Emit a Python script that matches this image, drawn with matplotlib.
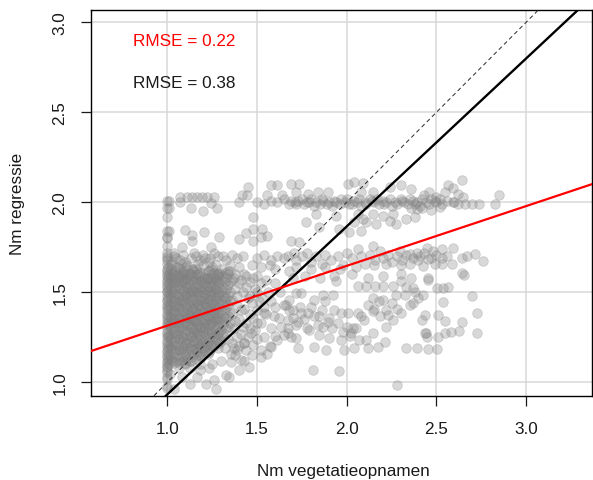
import matplotlib
matplotlib.use('Agg')
import matplotlib.pyplot as plt

plt.rcParams['font.family'] = ['Liberation Sans', 'DejaVu Sans']

# dense block near x = 1.0 .. 1.35 (column x -> y values)
block_cols = {
    1.0: [0.97, 0.98, 1.02, 1.03, 1.06, 1.07, 1.09, 1.11, 1.12, 1.14, 1.15, 1.17, 1.18, 1.2, 1.22,
          1.23, 1.25, 1.27, 1.28, 1.3, 1.32, 1.33, 1.35, 1.37, 1.38, 1.4, 1.42, 1.43, 1.45, 1.46,
          1.48, 1.5, 1.51, 1.53, 1.54, 1.56, 1.57, 1.59, 1.6, 1.62, 1.63, 1.66, 1.68, 1.69, 1.7,
          1.72, 1.76, 1.8, 1.84, 1.92, 1.97, 2.01],
    1.005: [1.13, 1.19, 1.26, 1.34, 1.41, 1.47, 1.52, 1.58, 1.64],
    1.01: [1.1, 1.15, 1.21, 1.26, 1.32, 1.37, 1.43, 1.49, 1.55, 1.6],
    1.02: [1.13, 1.19, 1.24, 1.31, 1.36, 1.41, 1.47, 1.52, 1.58, 1.63],
    1.025: [1.12, 1.2, 1.27, 1.33, 1.38, 1.44, 1.5, 1.56, 1.61, 1.67],
    1.03: [1.16, 1.22, 1.28, 1.34, 1.39, 1.45, 1.5, 1.55, 1.61],
    1.04: [1.11, 1.17, 1.23, 1.3, 1.36, 1.4, 1.47, 1.52, 1.59],
    1.045: [1.14, 1.21, 1.27, 1.33, 1.39, 1.43, 1.49, 1.55, 1.62],
    1.05: [1.12, 1.18, 1.25, 1.29, 1.35, 1.42, 1.46, 1.53, 1.57, 1.64],
    1.06: [1.15, 1.21, 1.27, 1.33, 1.38, 1.44, 1.49, 1.56, 1.6],
    1.065: [1.11, 1.18, 1.24, 1.3, 1.36, 1.42, 1.48, 1.54, 1.59],
    1.07: [1.12, 1.18, 1.24, 1.31, 1.35, 1.41, 1.46, 1.52, 1.58, 1.63],
    1.08: [1.14, 1.2, 1.26, 1.3, 1.37, 1.43, 1.48, 1.54, 1.59, 1.66],
    1.085: [1.12, 1.19, 1.25, 1.32, 1.39, 1.45, 1.51, 1.56, 1.61],
    1.09: [1.17, 1.23, 1.29, 1.35, 1.4, 1.46, 1.51, 1.57, 1.62],
    1.1: [1.11, 1.16, 1.21, 1.27, 1.33, 1.38, 1.44, 1.49, 1.55, 1.6],
    1.105: [1.14, 1.22, 1.29, 1.36, 1.42, 1.48, 1.53, 1.58, 1.64],
    1.11: [1.13, 1.19, 1.24, 1.32, 1.36, 1.41, 1.47, 1.53, 1.58],
    1.12: [1.16, 1.22, 1.28, 1.34, 1.39, 1.45, 1.5, 1.55, 1.61],
    1.125: [1.12, 1.19, 1.26, 1.32, 1.37, 1.43, 1.49, 1.54, 1.6],
    1.13: [1.12, 1.18, 1.26, 1.3, 1.35, 1.4, 1.46, 1.51, 1.57],
    1.14: [1.14, 1.2, 1.25, 1.31, 1.37, 1.42, 1.48, 1.52, 1.59],
    1.145: [1.16, 1.23, 1.28, 1.34, 1.41, 1.46, 1.51, 1.57, 1.63],
    1.15: [1.18, 1.23, 1.29, 1.35, 1.4, 1.44, 1.5, 1.56, 1.62],
    1.16: [1.13, 1.19, 1.25, 1.3, 1.34, 1.39, 1.45, 1.51, 1.57, 1.63],
    1.165: [1.17, 1.22, 1.28, 1.33, 1.38, 1.44, 1.5, 1.55, 1.6],
    1.17: [1.15, 1.21, 1.27, 1.32, 1.38, 1.43, 1.49, 1.54, 1.6],
    1.18: [1.19, 1.24, 1.3, 1.36, 1.41, 1.46, 1.52, 1.57],
    1.185: [1.15, 1.21, 1.27, 1.34, 1.39, 1.45, 1.5, 1.56, 1.61],
    1.19: [1.14, 1.2, 1.26, 1.31, 1.37, 1.43, 1.48, 1.53, 1.59],
    1.2: [1.16, 1.22, 1.28, 1.33, 1.39, 1.45, 1.5, 1.55, 1.61],
    1.205: [1.19, 1.25, 1.31, 1.36, 1.42, 1.47, 1.52, 1.58],
    1.21: [1.17, 1.23, 1.3, 1.34, 1.4, 1.44, 1.49, 1.55],
    1.22: [1.2, 1.25, 1.31, 1.37, 1.42, 1.47, 1.53, 1.58],
    1.225: [1.16, 1.22, 1.28, 1.33, 1.39, 1.45, 1.51, 1.57, 1.62],
    1.23: [1.17, 1.23, 1.29, 1.35, 1.4, 1.46, 1.51, 1.56, 1.62],
    1.24: [1.18, 1.25, 1.32, 1.36, 1.42, 1.48, 1.53, 1.58],
    1.245: [1.21, 1.28, 1.34, 1.4, 1.46, 1.51, 1.57, 1.63],
    1.25: [1.21, 1.27, 1.33, 1.38, 1.44, 1.49, 1.54, 1.6],
    1.26: [1.2, 1.26, 1.34, 1.39, 1.43, 1.5, 1.55, 1.61],
    1.265: [1.23, 1.29, 1.35, 1.41, 1.46, 1.52, 1.58],
    1.27: [1.24, 1.3, 1.36, 1.41, 1.47, 1.52, 1.57],
    1.28: [1.19, 1.27, 1.32, 1.38, 1.44, 1.49, 1.55, 1.59],
    1.285: [1.25, 1.31, 1.36, 1.42, 1.48, 1.54, 1.6],
    1.29: [1.22, 1.28, 1.34, 1.39, 1.45, 1.5, 1.56, 1.61],
    1.3: [1.23, 1.29, 1.35, 1.4, 1.46, 1.51, 1.57],
    1.31: [1.26, 1.32, 1.37, 1.43, 1.48, 1.53, 1.59],
    1.32: [1.27, 1.34, 1.4, 1.45, 1.5, 1.56, 1.61],
    1.33: [1.3, 1.36, 1.42, 1.47, 1.52, 1.58],
    1.34: [1.31, 1.37, 1.43, 1.48, 1.54, 1.6],
    1.35: [1.33, 1.39, 1.45, 1.5, 1.56, 1.62],
}

# scattered points below and right of the block
low_pts = [(1.0, 1.086), (1.017, 1.049), (1.063, 1.077), (1.082, 1.03), (1.129, 1.077), (1.166, 1.03),
           (1.185, 1.067), (1.231, 1.077), (1.259, 1.011), (1.269, 0.965), (1.353, 1.114), (1.399, 1.067),
           (1.343, 1.03), (1.455, 1.086), (1.129, 0.993), (1.213, 0.993), (1.035, 0.965), (1.409, 1.123),
           (1.325, 1.039), (1.521, 1.142), (1.558, 1.16), (1.577, 1.198), (1.614, 1.235), (1.651, 1.263),
           (1.539, 1.385), (1.595, 1.366), (1.633, 1.31), (1.502, 1.328), (1.465, 1.273), (1.427, 1.217),
           (1.39, 1.179), (1.353, 1.16), (1.25, 1.1), (1.3, 1.12), (1.18, 1.1), (1.1, 1.1)]

mid_left_pts = [(1.37, 1.58), (1.4, 1.55), (1.43, 1.6), (1.46, 1.56), (1.38, 1.52), (1.42, 1.5), (1.45, 1.47),
                (1.49, 1.52), (1.52, 1.55), (1.36, 1.46), (1.39, 1.43), (1.43, 1.41), (1.47, 1.44), (1.5, 1.4),
                (1.53, 1.47), (1.56, 1.5), (1.36, 1.38), (1.4, 1.35), (1.44, 1.33), (1.48, 1.36), (1.52, 1.33),
                (1.55, 1.38), (1.37, 1.3), (1.41, 1.27), (1.45, 1.25), (1.49, 1.29), (1.54, 1.25), (1.58, 1.3),
                (1.36, 1.22), (1.4, 1.2), (1.44, 1.18), (1.48, 1.21), (1.52, 1.18), (1.38, 1.15), (1.43, 1.12),
                (1.47, 1.15), (1.6, 1.42), (1.62, 1.36), (1.58, 1.45), (1.6, 1.55), (1.63, 1.5), (1.65, 1.43),
                (1.57, 1.2), (1.6, 1.26),
                (1.38, 1.6), (1.41, 1.57), (1.44, 1.53), (1.39, 1.48), (1.41, 1.4), (1.46, 1.38), (1.38, 1.34),
                (1.42, 1.31), (1.46, 1.3), (1.39, 1.25), (1.43, 1.22), (1.5, 1.24), (1.37, 1.19), (1.46, 1.48),
                (1.51, 1.45), (1.54, 1.42), (1.5, 1.5), (1.48, 1.58), (1.55, 1.57), (1.34, 1.24), (1.32, 1.19)]

mid_right_pts = [(1.717, 1.497), (1.745, 1.497), (1.819, 1.459), (1.866, 1.487), (1.922, 1.487), (1.941, 1.562),
                 (2.062, 1.534), (2.109, 1.534), (2.155, 1.534), (2.202, 1.534), (2.258, 1.534), (2.305, 1.562),
                 (2.37, 1.525), (2.277, 1.487), (2.323, 1.487), (2.146, 1.469), (2.202, 1.459), (2.37, 1.441),
                 (1.679, 1.459), (1.698, 1.403), (1.745, 1.385), (1.782, 1.385), (1.67, 1.347), (1.726, 1.338),
                 (1.847, 1.366), (1.894, 1.338), (1.931, 1.403), (1.969, 1.385), (2.006, 1.385), (2.062, 1.385),
                 (2.099, 1.347), (2.146, 1.394), (2.183, 1.366), (2.23, 1.375), (2.258, 1.347), (2.305, 1.385),
                 (2.221, 1.31), (1.866, 1.31), (1.791, 1.291), (1.67, 1.273), (1.717, 1.245), (1.847, 1.263),
                 (1.903, 1.245), (1.969, 1.235), (2.025, 1.273), (2.034, 1.301), (2.071, 1.235), (2.146, 1.273),
                 (2.109, 1.235), (1.987, 1.179), (2.043, 1.189), (2.118, 1.189), (2.174, 1.198), (1.726, 1.189),
                 (1.819, 1.198), (1.885, 1.179), (2.211, 1.226), (2.333, 1.189), (2.389, 1.189), (1.81, 1.071),
                 (1.956, 1.063), (2.282, 0.983), (2.435, 1.273),
                 (1.66, 1.43), (1.68, 1.4), (1.7, 1.36), (1.67, 1.3), (1.69, 1.25), (1.72, 1.32), (1.74, 1.42),
                 (1.76, 1.35), (1.78, 1.3), (1.8, 1.42), (1.82, 1.37), (1.84, 1.32), (1.86, 1.4), (1.88, 1.45),
                 (1.9, 1.36), (1.92, 1.3), (1.95, 1.33), (1.98, 1.28), (2.0, 1.31), (2.02, 1.26), (2.05, 1.3),
                 (2.08, 1.37), (2.12, 1.43), (2.15, 1.41), (2.18, 1.45), (2.22, 1.4), (2.25, 1.44), (2.28, 1.41),
                 (2.35, 1.43), (2.4, 1.47), (2.33, 1.53), (2.38, 1.5),
                 (2.501, 1.525), (2.538, 1.525), (2.566, 1.531), (2.454, 1.571), (2.426, 1.487), (2.697, 1.482),
                 (2.538, 1.444), (2.439, 1.375), (2.506, 1.375), (2.547, 1.343), (2.64, 1.338), (2.725, 1.385),
                 (2.443, 1.273), (2.45, 1.254), (2.511, 1.254), (2.547, 1.273), (2.581, 1.278), (2.625, 1.286),
                 (2.725, 1.273), (2.454, 1.185), (2.501, 1.185), (2.422, 1.347)]

# band around y = 1.7
band17_pts = [(1.035, 1.70), (1.07, 1.68), (1.09, 1.71), (1.13, 1.69), (1.15, 1.72), (1.185, 1.68), (1.2, 1.71),
              (1.24, 1.69), (1.28, 1.7), (1.33, 1.68), (1.36, 1.71), (1.39, 1.69), (1.42, 1.7), (1.5, 1.69),
              (1.54, 1.71), (1.58, 1.68), (1.61, 1.7), (1.65, 1.69), (1.02, 1.66), (1.06, 1.64), (1.11, 1.65),
              (1.14, 1.63), (1.2, 1.65), (1.25, 1.64), (1.3, 1.63), (1.35, 1.65), (1.4, 1.64), (1.47, 1.65),
              (1.52, 1.64), (1.57, 1.65), (1.6, 1.63), (1.03, 1.58), (1.08, 1.6), (1.13, 1.6), (1.22, 1.58),
              (1.28, 1.6), (1.36, 1.57), (1.44, 1.59), (1.5, 1.59),
              (1.05, 1.69), (1.1, 1.67), (1.17, 1.66), (1.23, 1.67), (1.27, 1.65), (1.31, 1.7), (1.34, 1.62),
              (1.16, 1.7), (1.21, 1.69), (1.04, 1.72), (1.26, 1.72),
              (1.082, 1.752), (1.245, 1.752), (1.138, 1.786), (1.287, 1.808), (1.207, 1.833), (1.138, 1.818),
              (1.097, 1.846), (1.399, 1.796), (1.437, 1.829), (1.478, 1.852), (1.53, 1.852), (1.558, 1.814),
              (1.48, 1.786), (1.52, 1.805),
              (1.69, 1.786), (1.735, 1.777), (1.707, 1.721), (1.67, 1.7), (1.72, 1.68), (1.75, 1.7), (1.78, 1.72),
              (1.8, 1.67), (1.83, 1.7), (1.86, 1.66), (1.88, 1.71), (1.91, 1.68), (1.95, 1.7), (1.98, 1.65),
              (2.0, 1.72), (2.03, 1.69), (2.062, 1.739), (2.08, 1.7), (2.1, 1.66), (2.146, 1.755), (2.13, 1.71),
              (2.16, 1.68), (2.183, 1.73), (2.2, 1.69), (2.23, 1.71), (2.25, 1.67), (2.28, 1.7), (2.295, 1.73),
              (2.31, 1.68), (2.33, 1.71), (2.351, 1.711), (2.37, 1.69), (2.39, 1.72), (2.41, 1.7), (2.445, 1.749),
              (2.482, 1.73), (2.529, 1.739), (2.594, 1.749), (2.64, 1.693), (2.668, 1.702), (2.715, 1.711),
              (2.762, 1.674), (2.585, 1.655), (2.53, 1.66), (2.49, 1.655), (2.454, 1.683), (2.426, 1.646),
              (2.529, 1.693), (2.56, 1.7), (2.5, 1.71), (2.47, 1.69), (2.43, 1.72), (2.4, 1.68), (2.35, 1.66),
              (2.3, 1.65), (2.22, 1.66), (2.15, 1.65), (2.05, 1.64), (1.96, 1.63), (1.88, 1.64), (1.8, 1.63),
              (1.72, 1.64), (1.68, 1.62), (1.7, 1.58), (1.77, 1.59), (1.85, 1.58), (1.93, 1.59), (2.03, 1.6),
              (2.12, 1.58), (2.2, 1.59), (2.3, 1.6), (2.36, 1.58), (2.454, 1.581), (2.64, 1.609), (2.655, 1.594)]

# band around y = 2.0
band20_pts = [(1.007, 2.01), (1.007, 1.967), (1.073, 2.03), (1.11, 2.03), (1.138, 2.03), (1.166, 2.03),
              (1.194, 2.03), (1.222, 2.03), (1.259, 2.03), (1.069, 2.0), (1.133, 1.967), (1.198, 1.954),
              (1.241, 1.997), (1.278, 1.967), (1.399, 2.0), (1.418, 2.038), (1.446, 2.038), (1.452, 2.085),
              (1.48, 1.917), (1.58, 2.098), (1.614, 2.098), (1.558, 2.038), (1.642, 2.042),
              (1.007, 1.842), (0.998, 1.805),
              (1.5, 2.0), (1.54, 1.99), (1.577, 2.01), (1.614, 2.0), (1.651, 2.02), (1.68, 1.99), (1.71, 2.0),
              (1.73, 2.01), (1.76, 1.99), (1.78, 2.0), (1.8, 2.02), (1.83, 2.0), (1.85, 1.99), (1.87, 2.01),
              (1.9, 2.0), (1.92, 1.98), (1.94, 2.0), (1.97, 2.02), (1.99, 2.0), (2.01, 1.99), (2.04, 2.01),
              (2.06, 2.0), (2.08, 1.98), (2.1, 2.0), (2.13, 2.02), (2.15, 2.0), (2.18, 1.99), (2.2, 2.01),
              (2.22, 2.0), (2.25, 1.98), (2.27, 2.0), (2.3, 2.02), (2.32, 2.0), (2.34, 1.99), (2.37, 2.01),
              (2.39, 2.0), (2.41, 1.98), (2.44, 2.0), (2.47, 2.02), (2.5, 2.0), (2.53, 1.99), (2.56, 2.01),
              (2.59, 2.0), (1.69, 2.01), (1.72, 1.99), (1.75, 2.02), (1.79, 2.0), (1.82, 1.98), (1.86, 2.02),
              (1.89, 1.99), (1.93, 2.01), (1.96, 1.99), (2.0, 2.02), (2.03, 1.99), (2.07, 2.02), (2.11, 1.99),
              (2.14, 2.01), (2.17, 2.02), (2.21, 1.99), (2.24, 2.02), (2.28, 1.99), (2.31, 2.01), (2.35, 2.02),
              (2.38, 1.99), (2.42, 2.02), (2.46, 1.99), (2.49, 2.01), (2.52, 2.02), (2.659, 1.992),
              (2.697, 1.992), (2.738, 1.992), (2.827, 1.992), (2.6, 2.0), (2.62, 1.99),
              (1.689, 2.104), (1.735, 2.104), (1.717, 2.057), (1.782, 2.048), (1.838, 2.057), (1.894, 2.057),
              (2.006, 2.104), (2.043, 2.113), (2.09, 2.109), (2.081, 2.06), (2.146, 2.057), (2.239, 2.085),
              (2.305, 2.094), (2.36, 2.072), (2.566, 2.094), (2.59, 2.08), (2.64, 2.122), (2.55, 2.06),
              (2.846, 2.038), (2.622, 2.048), (2.65, 2.029), (2.43, 2.04), (2.46, 2.06), (2.5, 2.03),
              (1.829, 1.936), (1.941, 1.926), (2.062, 1.936), (2.09, 1.908), (2.146, 1.936), (2.202, 1.926),
              (2.239, 1.898), (2.277, 1.88), (2.333, 1.908), (2.379, 1.917), (2.258, 1.936), (2.165, 1.88),
              (2.109, 1.889), (2.043, 1.889), (2.081, 1.842), (1.773, 1.889), (1.847, 1.861), (1.959, 1.852),
              (2.015, 1.833), (2.36, 1.97), (2.39, 1.965), (2.42, 1.97), (2.47, 1.96), (2.52, 1.975)]

red_line = (0.983, 0.332)   # intercept, slope
black_slope = 0.933
rmse_red = 'RMSE = 0.22'
rmse_black = 'RMSE = 0.38'

xs, ys = [], []
for x, col in block_cols.items():
    xs += [x] * len(col)
    ys += col
for pts in [low_pts, mid_left_pts, mid_right_pts, band17_pts, band20_pts]:
    xs += [p[0] for p in pts]
    ys += [p[1] for p in pts]

fig = plt.figure(figsize=(5.93, 4.81), dpi=100)
ax = fig.add_axes([0.1535, 0.1753, 0.8448, 0.8018])

ax.grid(True, color='#d9d9d9', lw=1.1, zorder=0)
ax.scatter(xs, ys, s=48, c='#808080', alpha=0.3, edgecolors='#808080', linewidths=0.6, zorder=2)

ax.axline((0, 0), slope=1, color='#333333', lw=0.75, dashes=(4, 3), zorder=3)
ax.axline((0, 0), slope=black_slope, color='black', lw=1.7, zorder=4)
ax.axline((0, red_line[0]), slope=red_line[1], color='red', lw=1.6, zorder=5)

ax.text(0.809, 2.896, rmse_red, color='red', fontsize=12.3, va='center', ha='left')
ax.text(0.809, 2.663, rmse_black, color='#1a1a1a', fontsize=12.3, va='center', ha='left')

ax.set_xlim(0.575, 3.367)
ax.set_ylim(0.926, 3.068)
ax.set_xticks([1.0, 1.5, 2.0, 2.5, 3.0])
ax.set_yticks([1.0, 1.5, 2.0, 2.5, 3.0])
ax.set_xticklabels(['1.0', '1.5', '2.0', '2.5', '3.0'])
ax.set_yticklabels(['1.0', '1.5', '2.0', '2.5', '3.0'], rotation=90, va='center')
ax.tick_params(axis='both', length=7.5, width=0.9, labelsize=12.3, colors='#1a1a1a')
ax.tick_params(axis='x', pad=11)
ax.tick_params(axis='y', pad=9.5)
for sp in ax.spines.values():
    sp.set_linewidth(1.0)

fig.text(343 / 593, 1 - 472 / 481, 'Nm vegetatieopnamen', fontsize=12.3, ha='center', va='center', color='#1a1a1a')
fig.text(18 / 593, 1 - 204 / 481, 'Nm regressie', fontsize=12.3, ha='center', va='center', rotation=90, color='#1a1a1a')

fig.savefig('out.png', dpi=100)
